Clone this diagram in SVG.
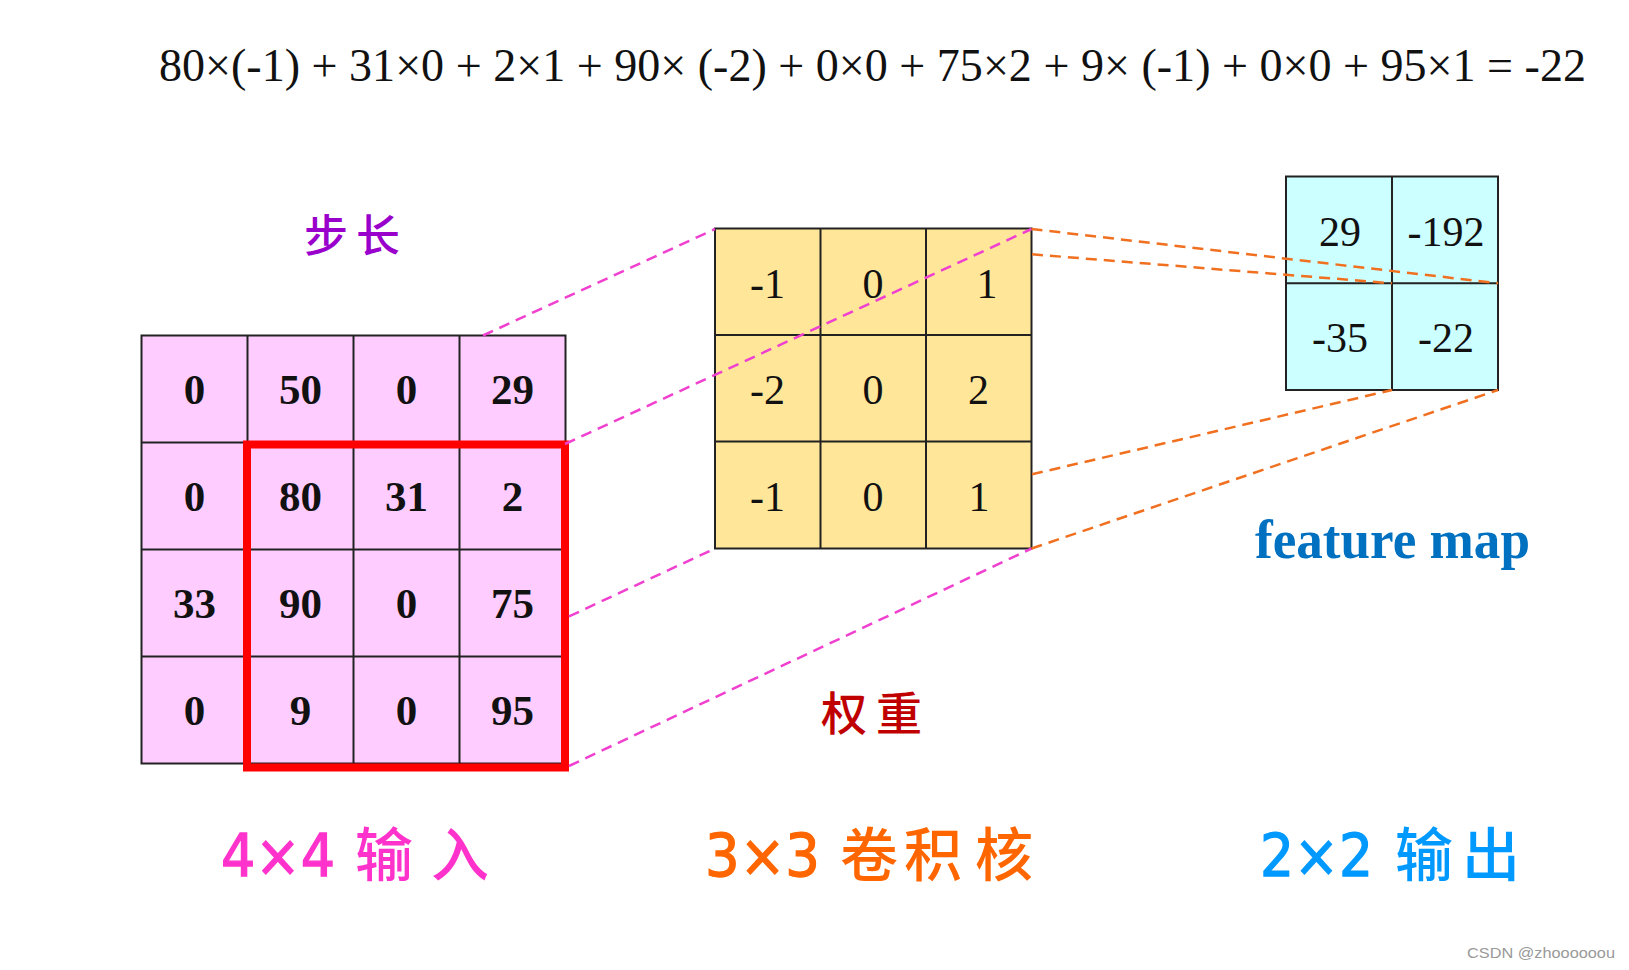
<svg xmlns="http://www.w3.org/2000/svg" width="1629" height="970" viewBox="0 0 1629 970">
<style>
.grid{stroke:#222;stroke-width:2;}
.lines{fill:none;stroke:#222;stroke-width:2;}
.num{font-family:"Liberation Serif","DejaVu Serif",serif;font-size:42px;fill:#111;text-anchor:middle;}
.numb{font-family:"Liberation Serif","DejaVu Serif",serif;font-size:43px;font-weight:bold;fill:#111;text-anchor:middle;}
.cjk{font-family:"Noto Sans CJK SC",sans-serif;font-weight:500;}
.lbl{font-family:"DejaVu Sans","Noto Sans CJK SC",sans-serif;font-size:58px;}
.dig{stroke-width:1.3;}
.mag{stroke:#F040D0;stroke-width:2.5;stroke-dasharray:11 7;fill:none;}
.org{stroke:#F07020;stroke-width:2.5;stroke-dasharray:11 7;fill:none;}
</style>
<rect width="1629" height="970" fill="#ffffff"/>

<g id="equation">
<text x="159" y="81" font-family="'Liberation Serif',serif" font-size="46" fill="#111" textLength="1427" lengthAdjust="spacingAndGlyphs">80×(-1) + 31×0 + 2×1 + 90× (-2) + 0×0 + 75×2 + 9× (-1) + 0×0 + 95×1 = -22</text>
</g>

<g id="output-grid">
<rect x="1286" y="176.5" width="212" height="213.5" fill="#CCFFFF" class="grid"/>
<path class="lines" d="M1392 176.5V390M1286 283.3H1498"/>
<text class="num" x="1340" y="246">29</text>
<text class="num" x="1446" y="246">-192</text>
<text class="num" x="1340" y="352">-35</text>
<text class="num" x="1446" y="352">-22</text>
</g>

<g id="kernel-grid">
<rect x="715" y="228.5" width="316.5" height="320" fill="#FFE699" class="grid"/>
<path class="lines" d="M820.5 228.5V548.5M926 228.5V548.5M715 335H1031.5M715 441.5H1031.5"/>
<text class="num" x="767.5" y="298">-1</text>
<text class="num" x="873" y="298">0</text>
<text class="num" x="987" y="298">1</text>
<text class="num" x="767.5" y="404">-2</text>
<text class="num" x="873" y="404">0</text>
<text class="num" x="978.5" y="404">2</text>
<text class="num" x="767.5" y="511">-1</text>
<text class="num" x="873" y="511">0</text>
<text class="num" x="979" y="511">1</text>
</g>

<g id="input-grid">
<rect x="141.5" y="335.5" width="424" height="428" fill="#FFCCFF" class="grid"/>
<path class="lines" d="M247.5 335.5V763.5M353.5 335.5V763.5M459.5 335.5V763.5M141.5 442.5H565.5M141.5 549.5H565.5M141.5 656.5H565.5"/>
<text class="numb" x="194.5" y="404">0</text>
<text class="numb" x="300.5" y="404">50</text>
<text class="numb" x="406.5" y="404">0</text>
<text class="numb" x="512.5" y="404">29</text>
<text class="numb" x="194.5" y="511">0</text>
<text class="numb" x="300.5" y="511">80</text>
<text class="numb" x="406.5" y="511">31</text>
<text class="numb" x="512.5" y="511">2</text>
<text class="numb" x="194.5" y="618">33</text>
<text class="numb" x="300.5" y="618">90</text>
<text class="numb" x="406.5" y="618">0</text>
<text class="numb" x="512.5" y="618">75</text>
<text class="numb" x="194.5" y="725">0</text>
<text class="numb" x="300.5" y="725">9</text>
<text class="numb" x="406.5" y="725">0</text>
<text class="numb" x="512.5" y="725">95</text>
</g>

<g id="stride-window">
<rect x="247" y="444.5" width="318" height="323" fill="none" stroke="#FF0000" stroke-width="8"/>
</g>

<g id="connectors">
<line class="mag" x1="483" y1="335.5" x2="715" y2="229"/>
<line class="mag" x1="565" y1="444" x2="1031.5" y2="229"/>
<line class="mag" x1="569" y1="616.4" x2="715" y2="548.5"/>
<line class="mag" x1="569" y1="766" x2="1031.5" y2="548.5"/>
<line class="org" x1="1031.5" y1="229" x2="1498" y2="283.3"/>
<line class="org" x1="1032" y1="254.3" x2="1392" y2="283.3"/>
<line class="org" x1="1032" y1="474.3" x2="1392" y2="390"/>
<line class="org" x1="1031.5" y1="548.5" x2="1498" y2="390"/>
</g>

<g id="label-stride">
<text class="cjk" font-size="44" fill="#9900CC" y="252"><tspan x="304">步</tspan><tspan x="356">长</tspan></text>
</g>

<g id="label-weight">
<text class="cjk" font-size="46" fill="#C00000" y="730"><tspan x="821">权</tspan><tspan x="876">重</tspan></text>
</g>

<g id="label-feature-map">
<text x="1255" y="558" font-family="'Liberation Serif',serif" font-size="54" font-weight="bold" fill="#0070C0" textLength="275" lengthAdjust="spacingAndGlyphs">feature map</text>
</g>

<g id="label-input">
<text class="lbl" y="876" fill="#FF33CC"><tspan class="dig" stroke="#FF33CC" x="221" textLength="114" lengthAdjust="spacingAndGlyphs">4×4</tspan><tspan class="cjk" x="355">输</tspan><tspan class="cjk" x="431">入</tspan></text>
</g>

<g id="label-kernel">
<text class="lbl" y="876" fill="#FF6600"><tspan class="dig" stroke="#FF6600" x="705" textLength="115" lengthAdjust="spacingAndGlyphs">3×3</tspan><tspan class="cjk" x="840">卷</tspan><tspan class="cjk" x="904">积</tspan><tspan class="cjk" x="975">核</tspan></text>
</g>

<g id="label-output">
<text class="lbl" y="876" fill="#0099FF"><tspan class="dig" stroke="#0099FF" x="1260" textLength="113" lengthAdjust="spacingAndGlyphs">2×2</tspan><tspan class="cjk" x="1395">输</tspan><tspan class="cjk" x="1462">出</tspan></text>
</g>

<g id="watermark">
<text x="1467" y="958" font-family="'Liberation Sans',Arial,sans-serif" font-size="15" fill="#999" textLength="148" lengthAdjust="spacingAndGlyphs">CSDN @zhoooooou</text>
</g>
</svg>
